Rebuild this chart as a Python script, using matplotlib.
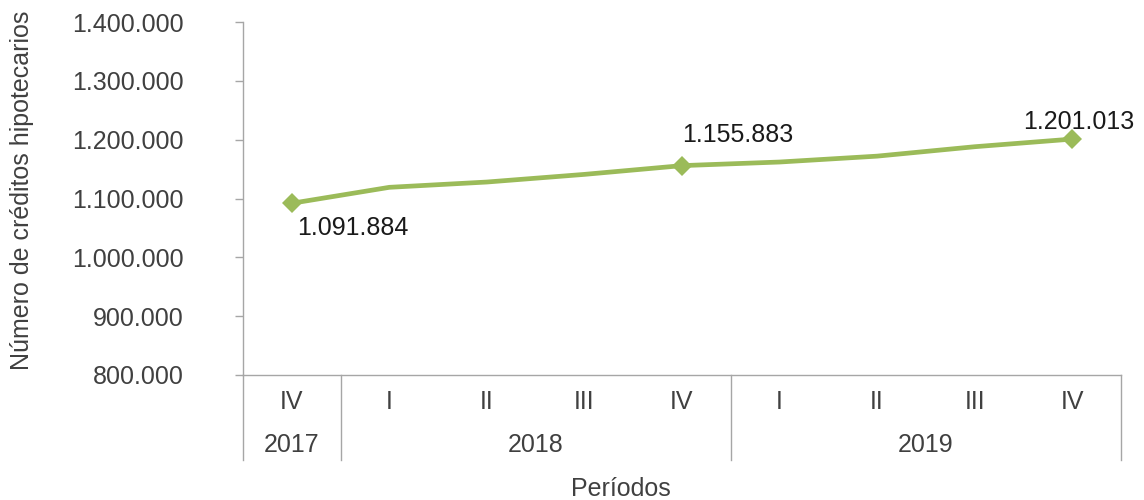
import matplotlib
matplotlib.use("Agg")
import matplotlib.pyplot as plt
from matplotlib.ticker import FuncFormatter, MultipleLocator
from matplotlib.transforms import blended_transform_factory

# ---- data ----
quarters = ["IV", "I", "II", "III", "IV", "I", "II", "III", "IV"]
years = ["2017", "2018", "2019"]
year_spans = [(0, 0), (1, 4), (5, 8)]  # index ranges of each year group
creditos = [1091884, 1119000, 1128000, 1141000, 1155883, 1162000, 1172000, 1188000, 1201013]
labeled_idx = [0, 4, 8]
label_offsets = [(44, -18), (40, 22), (5, 12)]  # points (dx, dy)

ylabel = "Número de créditos hipotecarios"
xlabel = "Períodos"

plt.rcParams['font.family'] = ['Liberation Sans', 'DejaVu Sans']

GREEN = "#9BBB59"
GRAY = "#A6A6A6"
TXT = "#404040"
FS = 18

fig = plt.figure(figsize=(11.44, 5.0), dpi=100)
ax = fig.add_axes([243/1144, 1-375/500, (1121-243)/1144, (375-22)/500])

x = list(range(len(creditos)))
ax.plot(x, creditos, color=GREEN, lw=3.4, marker="D", ms=10, mew=0,
        markevery=labeled_idx, solid_joinstyle="round", zorder=3)

def fmt(v, pos=None):
    return f"{int(round(v)):,}".replace(",", ".")

for i, (dx, dy) in zip(labeled_idx, label_offsets):
    ax.annotate(fmt(creditos[i]), (i, creditos[i]), xytext=(dx, dy),
                textcoords="offset points", ha="center", va="center",
                fontsize=FS, color="#1a1a1a")

ax.set_xlim(-0.5, len(creditos) - 0.5)
ax.set_ylim(800000, 1400000)
ax.yaxis.set_major_locator(MultipleLocator(100000))
ax.yaxis.set_major_formatter(FuncFormatter(fmt))
ax.tick_params(axis="y", direction="out", length=6, width=1, color=GRAY,
               pad=36.5, labelsize=FS, labelcolor=TXT)
ax.set_xticks([])

for s in ["top", "right"]:
    ax.spines[s].set_visible(False)
for s in ["left", "bottom"]:
    ax.spines[s].set_color(GRAY)
    ax.spines[s].set_linewidth(1)

# multi-level category axis
tr = blended_transform_factory(ax.transData, ax.transAxes)
h = 353.0
y_q = -(402 - 375) / h
y_y = -(445 - 375) / h
y_sep = -(460 - 375) / h
for i, q in enumerate(quarters):
    ax.text(i, y_q, q, transform=tr, ha="center", va="center",
            fontsize=FS, color=TXT)
for yr, (a, b) in zip(years, year_spans):
    ax.text((a + b) / 2, y_y, yr, transform=tr, ha="center", va="center",
            fontsize=FS, color=TXT)
seps = [-0.5] + [b + 0.5 for (a, b) in year_spans]
for sx in seps:
    ax.plot([sx, sx], [0, y_sep], transform=tr, color=GRAY, lw=1, clip_on=False)

fig.text(620.5/1144, 1-489.5/500, xlabel, ha="center", va="center",
         fontsize=FS, color=TXT)
fig.text(22/1144, 1-190/500, ylabel, ha="center", va="center", rotation=90,
         fontsize=FS, color=TXT)

fig.savefig("out.png", dpi=100)
